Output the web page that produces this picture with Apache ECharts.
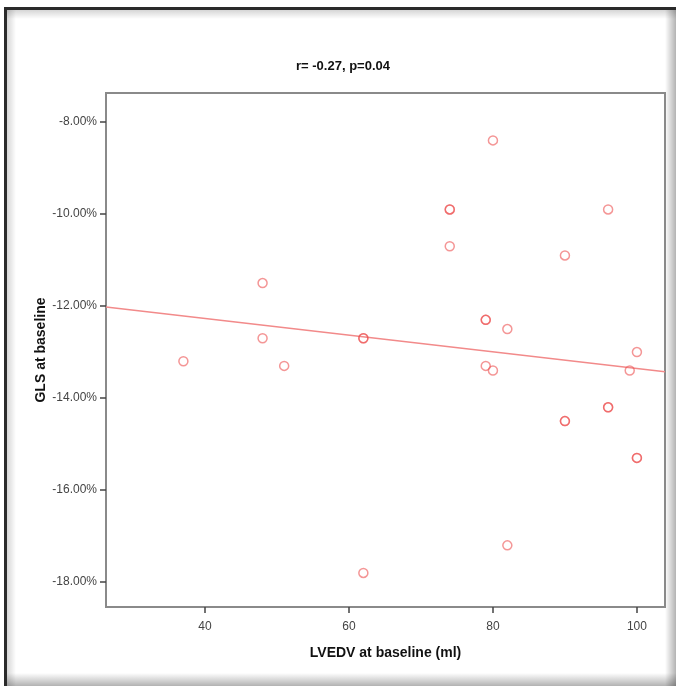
<!DOCTYPE html>
<html>
<head>
<meta charset="utf-8">
<script src="https://cdn.jsdelivr.net/npm/echarts@6/dist/echarts.min.js"></script>
<style>
html,body{margin:0;padding:0;background:#fff;}
#chart{width:676px;height:686px;}
</style>
</head>
<body>
<div id="chart"></div>
<script>
// LVEDV at baseline (ml)
const lvedv = [37, 48, 48, 51, 62, 62, 62, 74, 74, 74, 80, 79, 79, 79, 80, 82, 82, 90, 90, 90, 96, 96, 96, 100, 99, 100, 100];
// GLS at baseline (%)
const gls   = [-13.2, -11.5, -12.7, -13.3, -12.7, -12.7, -17.8, -9.9, -9.9, -10.7, -8.4, -12.3, -12.3, -13.3, -13.4, -12.5, -17.2, -10.9, -14.5, -14.5, -9.9, -14.2, -14.2, -13.0, -13.4, -15.3, -15.3];
// fit line end points (at axis edges)
const fitX = [26.25, 103.9];
const fitY = [-12.02, -13.43];
const xTicks = [40, 60, 80, 100];
const yTicks = [-18, -16, -14, -12, -10, -8];
const titleText = 'r= -0.27, p=0.04';

const points = lvedv.map((x, i) => [x, gls[i]]);
const fitLine = fitX.map((x, i) => [x, fitY[i]]);

const chart = echarts.init(document.getElementById('chart'), null, {renderer: 'canvas'});
const font = 'Liberation Sans, Arial, sans-serif';
chart.setOption({
  animation: false,
  backgroundColor: '#fff',
  graphic: [
    {type: 'rect', shape: {x: 6, y: 9, width: 670, height: 10}, z: -10,
     style: {fill: new echarts.graphic.LinearGradient(0, 0, 0, 1, [{offset: 0, color: 'rgba(0,0,0,0.18)'}, {offset: 1, color: 'rgba(0,0,0,0)'}])}},
    {type: 'rect', shape: {x: 6, y: 9, width: 10, height: 677}, z: -10,
     style: {fill: new echarts.graphic.LinearGradient(0, 0, 1, 0, [{offset: 0, color: 'rgba(0,0,0,0.18)'}, {offset: 1, color: 'rgba(0,0,0,0)'}])}},
    {type: 'rect', shape: {x: 665, y: 9, width: 11, height: 677}, z: -9,
     style: {fill: new echarts.graphic.LinearGradient(0, 0, 1, 0, [{offset: 0, color: 'rgba(0,0,0,0)'}, {offset: 1, color: 'rgba(0,0,0,0.3)'}])}},
    {type: 'rect', shape: {x: 6, y: 673, width: 670, height: 13}, z: -9,
     style: {fill: new echarts.graphic.LinearGradient(0, 0, 0, 1, [{offset: 0, color: 'rgba(0,0,0,0)'}, {offset: 1, color: 'rgba(0,0,0,0.3)'}])}},
    {type: 'rect', shape: {x: 5, y: 7, width: 671, height: 3}, z: -8, style: {fill: '#2a2a2a'}},
    {type: 'rect', shape: {x: 4, y: 7, width: 3, height: 679}, z: -8, style: {fill: '#2a2a2a'}},
    {type: 'text', x: 343, y: 66, z: 10,
     style: {text: titleText, font: 'bold 13px ' + font, fill: '#111', align: 'center', verticalAlign: 'middle'}}
  ],
  grid: {left: 106, top: 93, width: 559, height: 514, show: true, borderColor: '#8a8a8a', borderWidth: 2, backgroundColor: '#fff'},
  xAxis: {
    type: 'value', min: 26.25, max: 103.9,
    name: 'LVEDV at baseline (ml)', nameLocation: 'middle', nameGap: 39, nameMoveOverlap: false,
    nameTextStyle: {fontFamily: font, fontSize: 14, fontWeight: 'bold', color: '#111'},
    axisLine: {show: true, lineStyle: {color: '#8a8a8a', width: 2}},
    axisTick: {show: true, customValues: xTicks, length: 6, lineStyle: {color: '#444', width: 1.5}},
    axisLabel: {customValues: xTicks, fontFamily: font, fontSize: 12, color: '#444', margin: 14},
    splitLine: {show: false}
  },
  yAxis: {
    type: 'value', min: -18.54, max: -7.37,
    name: 'GLS at baseline', nameLocation: 'middle', nameGap: 58, nameRotate: 90, nameMoveOverlap: false,
    nameTextStyle: {fontFamily: font, fontSize: 14, fontWeight: 'bold', color: '#111'},
    axisLine: {show: true, lineStyle: {color: '#8a8a8a', width: 2}},
    axisTick: {show: true, customValues: yTicks, length: 6, lineStyle: {color: '#444', width: 1.5}},
    axisLabel: {customValues: yTicks, fontFamily: font, fontSize: 12, color: '#444', margin: 9,
      formatter: v => v.toFixed(2) + '%'},
    splitLine: {show: false}
  },
  series: [
    {type: 'line', data: fitLine, symbol: 'none', silent: true, z: 2,
     lineStyle: {color: '#f28a8a', width: 1.5}},
    {type: 'scatter', data: points, symbol: 'circle', symbolSize: 9, z: 3,
     itemStyle: {color: 'rgba(255,255,255,0)', borderColor: 'rgba(236,80,80,0.75)', borderWidth: 1.5}}
  ]
});
</script>
</body>
</html>
